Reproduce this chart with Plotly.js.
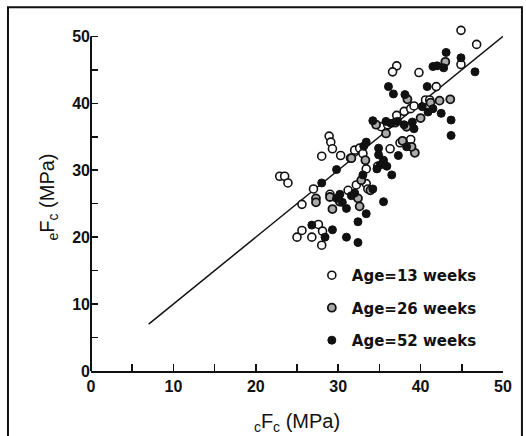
<!DOCTYPE html>
<html>
<head>
<meta charset="utf-8">
<script src="https://cdn.plot.ly/plotly-3.0.1.min.js"></script>
<style>html,body{margin:0;padding:0;background:#fff;}#chart{width:526px;height:436px;}</style>
</head>
<body>
<div id="chart"></div>
<script>
// Age = 13 weeks (open circles)
var x13 = [44.9, 46.8, 44.9, 41.9, 39.8, 37.1, 36.6, 40.6, 41.1, 37.1, 38.0, 38.8, 39.2, 28.9, 29.1, 29.3, 28.0, 30.3, 32.0, 32.6, 33.0, 22.9, 23.5, 23.9, 27.0, 25.6, 25.0, 25.6, 26.8, 27.6, 28.1, 28.0, 29.0, 31.2, 32.2, 33.4, 33.6, 33.4, 36.3, 37.5, 38.8, 35.2, 31.5, 34.8, 36.0];
var y13 = [50.9, 48.8, 45.8, 42.5, 44.6, 45.6, 44.7, 40.5, 40.5, 38.2, 38.8, 39.2, 39.6, 35.1, 34.2, 33.2, 32.1, 32.2, 33.0, 33.3, 32.5, 29.1, 29.1, 28.1, 27.2, 24.9, 20.0, 21.0, 20.0, 21.9, 20.9, 18.8, 26.4, 27.0, 27.8, 28.0, 27.2, 30.2, 33.2, 34.1, 34.6, 36.5, 31.8, 30.6, 36.8];
// Age = 26 weeks (grey circles)
var x26 = [27.3, 27.3, 29.0, 30.2, 32.4, 32.6, 33.3, 34.6, 36.9, 38.4, 38.3, 39.3, 42.3, 43.0, 41.2, 40.0, 29.3, 31.6, 32.8, 35.8, 37.8, 38.9, 33.9, 43.6];
var y26 = [25.8, 25.2, 26.0, 25.3, 25.8, 24.6, 31.5, 36.8, 37.1, 40.6, 36.5, 32.6, 40.4, 46.2, 40.1, 37.8, 24.2, 31.8, 28.5, 35.5, 34.4, 33.5, 27.0, 40.6];
// Age = 52 weeks (filled circles)
var x52 = [43.1, 44.9, 46.6, 41.5, 42.0, 42.8, 40.8, 36.1, 36.7, 38.1, 40.9, 41.5, 42.5, 43.7, 43.7, 34.2, 35.8, 36.4, 37.2, 38.0, 39.0, 39.2, 33.4, 34.9, 34.9, 35.5, 35.1, 35.9, 34.7, 36.5, 37.3, 38.3, 29.8, 28.0, 33.0, 32.0, 31.6, 30.2, 29.8, 30.5, 31.0, 34.2, 35.5, 33.4, 32.4, 31.0, 32.4, 26.8, 29.3, 28.4, 33.1, 40.2];
var y52 = [47.6, 46.8, 44.7, 45.5, 45.6, 45.3, 42.5, 42.5, 41.4, 41.3, 38.7, 39.2, 38.5, 37.5, 35.2, 37.4, 37.3, 37.0, 37.3, 36.8, 37.2, 36.2, 34.2, 33.3, 32.3, 31.5, 30.8, 30.6, 30.2, 29.3, 32.2, 33.5, 30.1, 28.1, 29.3, 26.6, 26.2, 26.4, 25.8, 25.2, 24.3, 27.2, 25.3, 23.5, 22.3, 20.0, 19.2, 21.8, 21.1, 20.0, 33.6, 39.5];
// Line of equality
var lineX = [7, 50];
var lineY = [7, 50];
var seriesNames = ['Age=13 weeks', 'Age=26 weeks', 'Age=52 weeks'];
var tickVals = [0, 10, 20, 30, 40, 50];

var traces = [
  {x: lineX, y: lineY, mode: 'lines', line: {color: '#111', width: 1.5}, showlegend: false, hoverinfo: 'skip', cliponaxis: false},
  {x: x13, y: y13, mode: 'markers', name: seriesNames[0], legendgroup: 'a', cliponaxis: false,
   marker: {symbol: 'circle', size: 8, color: '#fff', line: {color: '#111', width: 1.6}}},
  {x: x26, y: y26, mode: 'markers', name: seriesNames[1], legendgroup: 'b', cliponaxis: false,
   marker: {symbol: 'circle', size: 8, color: '#aaa', line: {color: '#111', width: 1.8}}},
  {x: x52, y: y52, mode: 'markers', name: seriesNames[2], legendgroup: 'c', cliponaxis: false,
   marker: {symbol: 'circle', size: 8, color: '#111', line: {color: '#111', width: 1}}}
];

var axisCommon = {
  tickvals: tickVals, ticks: 'inside', ticklen: 7, tickwidth: 1.5, tickcolor: '#111',
  showgrid: false, zeroline: false,
  minor: {dtick: 5, tick0: 0, ticks: 'inside', ticklen: 7, tickwidth: 1.5, tickcolor: '#111', showgrid: false},
  tickfont: {family: 'Liberation Sans, Arial, sans-serif', size: 16, color: '#111', weight: 'bold'},
  automargin: false, fixedrange: true
};

var layout = {
  width: 526, height: 436,
  margin: {l: 91, r: 23, t: 22.6, b: 65},
  paper_bgcolor: '#fff', plot_bgcolor: '#fff',
  font: {family: 'Liberation Sans, Arial, sans-serif', color: '#111'},
  xaxis: Object.assign({}, axisCommon, {
    range: [0, 50], showline: true, linecolor: '#111', linewidth: 2,
    title: {text: '<sub>c</sub>F<sub>c</sub> (MPa)', font: {size: 20, color: '#111'}, standoff: 20}
  }),
  yaxis: Object.assign({}, axisCommon, {
    range: [0, 52], showline: false,
    title: {text: '<sub>e</sub>F<sub>c</sub> (MPa)', font: {size: 20, color: '#111'}, standoff: 12}
  }),
  showlegend: true,
  legend: {x: 0.536, y: 0.322, xanchor: 'left', yanchor: 'top', bgcolor: 'rgba(0,0,0,0)',
    font: {family: 'DejaVu Sans, sans-serif', size: 15, color: '#111', weight: 'bold'}, tracegroupgap: 10, traceorder: 'grouped'},
  shapes: [
    {type: 'line', xref: 'paper', yref: 'y', x0: 0, x1: 0, y0: 0, y1: 50, line: {color: '#111', width: 2}},
    {type: 'rect', xref: 'paper', yref: 'paper', x0: -0.2015, x1: 1.046, y0: -0.26, y1: 1.045,
    line: {color: '#111', width: 2}, fillcolor: 'rgba(0,0,0,0)', layer: 'below'}]
};

Plotly.newPlot('chart', traces, layout, {displayModeBar: false, staticPlot: true});
</script>
</body>
</html>
